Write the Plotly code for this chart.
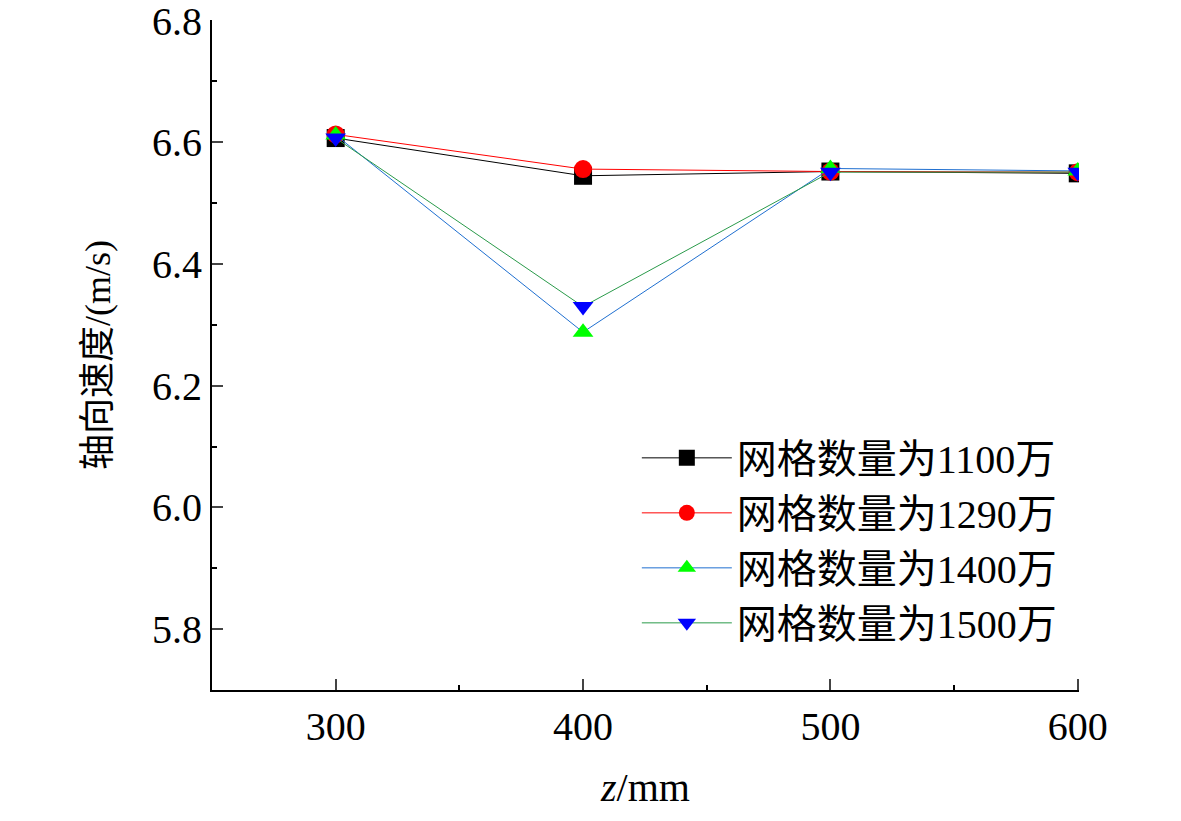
import plotly.graph_objects as go

z = [300, 400, 500, 600]
v1100 = [6.607, 6.545, 6.552, 6.549]
v1290 = [6.613, 6.556, 6.552, 6.551]
v1400 = [6.612, 6.288, 6.557, 6.553]
v1500 = [6.607, 6.330, 6.551, 6.551]
names = ["网格数量为1100万", "网格数量为1290万", "网格数量为1400万", "网格数量为1500万"]

series = [
    (v1100, "black", "black", "square"),
    (v1290, "red", "red", "circle"),
    (v1400, "#1f6fd0", "#00ff00", "triangle-up"),
    (v1500, "#2a9a4a", "#0000ff", "triangle-down"),
]

fig = go.Figure()
for (vals, lc, mc, sym), nm in zip(series, names):
    fig.add_trace(go.Scatter(x=z, y=vals, name=nm, mode="lines+markers",
                             line=dict(color=lc, width=1),
                             marker=dict(color=mc, symbol=sym, size=18)))

font = "Liberation Serif, Noto Sans CJK SC"
fig.update_layout(
    width=1181, height=821, plot_bgcolor="white", paper_bgcolor="white",
    margin=dict(l=204, r=110, t=12, b=139),
    font=dict(family=font, size=36, color="black"),
    legend=dict(x=0.49, y=0.395, xanchor="left", yanchor="top",
                font=dict(size=40, family=font),
                bgcolor="rgba(0,0,0,0)", itemwidth=90, tracegroupgap=0),
    showlegend=True,
)
fig.update_xaxes(range=[250, 600.5], tick0=300, dtick=100, ticks="inside", ticklen=11, tickwidth=2,
                 tickfont=dict(size=40, family="Liberation Serif"), ticklabeloverflow="allow", automargin=False,
                 showline=True, linecolor="black", linewidth=2, showgrid=False, zeroline=False,
                 minor=dict(ticks="inside", dtick=50, tick0=250, ticklen=5, tickwidth=2, tickcolor="black"),
                 title=dict(text="<i>z</i>/mm", font=dict(size=40, family="Liberation Serif, DejaVu Serif"), standoff=25))
fig.update_yaxes(range=[5.7, 6.801], tick0=5.8, dtick=0.2, tickformat=".1f", ticks="inside", ticklen=11, tickwidth=2,
                 tickfont=dict(size=40, family="Liberation Serif"), ticklabeloverflow="allow", automargin=False,
                 showline=True, linecolor="black", linewidth=2, showgrid=False, zeroline=False,
                 minor=dict(ticks="inside", dtick=0.1, ticklen=5, tickwidth=2, tickcolor="black"),
                 title=dict(text="轴向速度/(m/s)", font=dict(size=36), standoff=30))
fig.write_html("out.html")
